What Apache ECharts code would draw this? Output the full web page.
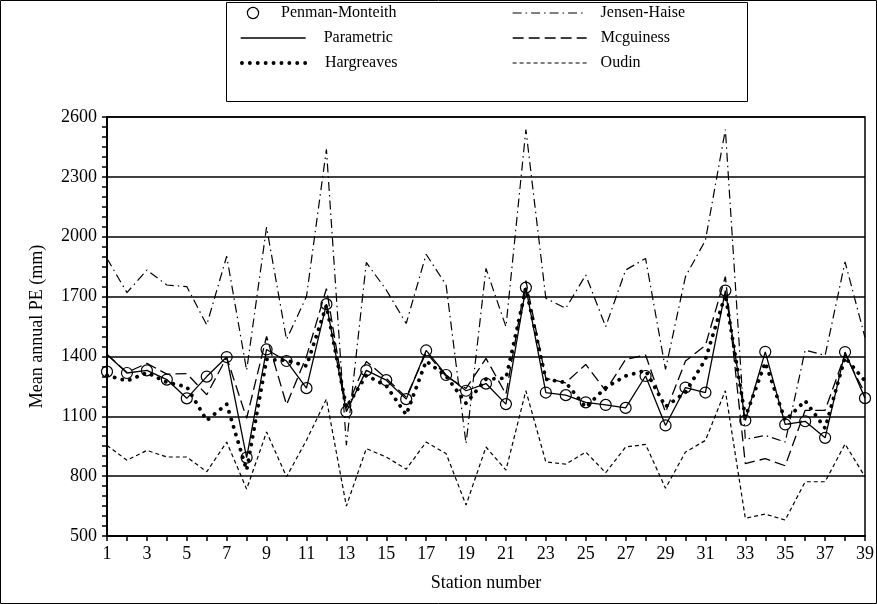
<!DOCTYPE html>
<html><head><meta charset="utf-8">
<script src="https://cdn.jsdelivr.net/npm/echarts/dist/echarts.min.js"></script>
<style>html,body{margin:0;padding:0;background:#fff}#c{width:877px;height:604px}</style>
</head><body><div id="c"></div>
<script>
const stations = ['1','2','3','4','5','6','7','8','9','10','11','12','13','14','15','16','17','18','19','20','21','22','23','24','25','26','27','28','29','30','31','32','33','34','35','36','37','38','39'];
const penmanMonteith = [1324,1317,1330,1284,1190,1299,1397,893,1435,1377,1241,1662,1123,1330,1281,1186,1430,1307,1228,1264,1161,1745,1219,1206,1170,1157,1142,1302,1054,1244,1219,1730,1079,1423,1059,1075,992,1422,1191];
const parametric = [1410,1317,1330,1284,1190,1299,1397,893,1435,1377,1241,1662,1123,1330,1281,1186,1430,1307,1228,1264,1161,1745,1219,1206,1170,1157,1142,1302,1054,1244,1219,1730,1079,1423,1059,1075,992,1422,1191];
const hargreaves = [1305,1277,1319,1270,1248,1079,1161,830,1385,1380,1352,1655,1145,1305,1253,1108,1377,1302,1165,1286,1291,1740,1286,1269,1145,1244,1302,1330,1148,1220,1385,1710,1095,1369,1079,1178,1040,1395,1277];
const jensenHaise = [1891,1720,1833,1758,1750,1558,1902,1330,2048,1485,1700,2438,955,1871,1733,1565,1912,1758,963,1841,1549,2537,1692,1641,1808,1549,1833,1891,1335,1800,1982,2537,985,1004,971,1432,1405,1874,1495];
const mcguiness = [1410,1320,1365,1311,1314,1208,1395,1090,1500,1158,1400,1740,1140,1375,1290,1195,1420,1300,1240,1390,1211,1780,1290,1268,1360,1228,1385,1407,1120,1377,1455,1800,863,888,852,1130,1130,1410,1215];
const oudin = [954,880,929,896,896,822,971,735,1021,797,980,1186,650,938,896,835,971,913,655,946,830,1228,871,860,921,817,946,959,739,921,979,1228,589,610,580,772,772,961,797];

const FONT = 'Liberation Serif';
const chart = echarts.init(document.getElementById('c'), null, {renderer: 'canvas'});

const STY = {
  oudin: {color: '#000', width: 1.2, type: [4, 3]},
  jensen: {color: '#000', width: 1.2, type: [9, 4, 1.5, 4]},
  mcg: {color: '#000', width: 1.3, type: [11, 5]},
  harg: {color: '#000', width: 3.8, type: [0.1, 7.8], cap: 'round'},
  param: {color: '#000', width: 1.3, type: 'solid'}
};

function leg(name, left, centerY, w, pad, lineStyle, itemStyle) {
  return {
    show: true, data: [name], left: left, top: centerY - 8, orient: 'horizontal',
    itemWidth: w, itemHeight: 14, padding: 0, selectedMode: false,
    lineStyle: lineStyle,
    itemStyle: itemStyle,
    textStyle: {fontFamily: FONT, fontSize: 16, color: '#000', padding: [0, 0, 0, pad]}
  };
}
const hiddenSym = {opacity: 0, borderWidth: 0, color: 'rgba(0,0,0,0)'};

const option = {
  animation: false,
  backgroundColor: '#fff',
  grid: {left: 107, right: 12, top: 117, bottom: 68, show: true, borderColor: '#000', borderWidth: 1.5, outerBoundsMode: 'none', containLabel: false},
  graphic: [
    {type: 'rect', shape: {x: 0.5, y: 0.5, width: 876, height: 603}, style: {fill: 'none', stroke: '#000', lineWidth: 1}, silent: true},
    {type: 'rect', shape: {x: 226.5, y: 2.5, width: 521, height: 99}, style: {fill: '#fff', stroke: '#000', lineWidth: 1}, silent: true, z: -1}
  ],
  legend: [
    leg('Penman-Monteith', 240, 13, 26, 10, {opacity: 0, width: 0}, {color: 'rgba(255,255,255,0)', borderColor: '#000', borderWidth: 1.2, opacity: 1}),
    leg('Parametric', 240, 38, 65, 13, STY.param, hiddenSym),
    leg('Hargreaves', 240, 63, 70, 8, STY.harg, hiddenSym),
    leg('Jensen-Haise', 512, 13, 74, 9, STY.jensen, hiddenSym),
    leg('Mcguiness', 512, 38, 74, 9, STY.mcg, hiddenSym),
    leg('Oudin', 512, 63, 74, 9, STY.oudin, hiddenSym)
  ],
  xAxis: {
    type: 'category', data: stations, boundaryGap: false,
    name: 'Station number', nameLocation: 'middle', nameGap: 38,
    nameTextStyle: {fontFamily: FONT, fontSize: 18, color: '#000'},
    axisLine: {show: true, lineStyle: {color: '#000', width: 2}},
    axisTick: {show: true, interval: 0, inside: false, length: 5, lineStyle: {color: '#000', width: 1.5}},
    axisLabel: {interval: 1, margin: 9, fontFamily: FONT, fontSize: 18, color: '#000'},
    splitLine: {show: false}
  },
  yAxis: {
    type: 'value', min: 500, max: 2600, interval: 300,
    name: 'Mean annual PE (mm)', nameLocation: 'middle', nameGap: 61, nameRotate: 90,
    nameTextStyle: {fontFamily: FONT, fontSize: 18, color: '#000'},
    axisLine: {show: true, lineStyle: {color: '#000', width: 2}},
    axisTick: {show: true, inside: false, length: 5, lineStyle: {color: '#000', width: 1.5}},
    minorTick: {show: true, splitNumber: 6, length: 5, lineStyle: {color: '#000', width: 1.5}},
    axisLabel: {margin: 10, fontFamily: FONT, fontSize: 18, color: '#000', formatter: function (v) { return String(v); }},
    splitLine: {show: true, lineStyle: {color: '#000', width: 1.5}},
    minorSplitLine: {show: false}
  },
  series: [
    {name: 'Oudin', type: 'line', data: oudin, symbol: 'none', z: 2, lineStyle: STY.oudin, itemStyle: {color: '#000'}},
    {name: 'Jensen-Haise', type: 'line', data: jensenHaise, symbol: 'none', z: 2, lineStyle: STY.jensen, itemStyle: {color: '#000'}},
    {name: 'Mcguiness', type: 'line', data: mcguiness, symbol: 'none', z: 2, lineStyle: STY.mcg, itemStyle: {color: '#000'}},
    {name: 'Hargreaves', type: 'line', data: hargreaves, symbol: 'none', z: 3, lineStyle: STY.harg, itemStyle: {color: '#000'}},
    {name: 'Parametric', type: 'line', data: parametric, symbol: 'none', z: 4, lineStyle: STY.param, itemStyle: {color: '#000'}},
    {name: 'Penman-Monteith', type: 'line', data: penmanMonteith, symbol: 'circle', symbolSize: 11,
      showSymbol: true, showAllSymbol: true, z: 5,
      lineStyle: {color: '#000', width: 1, opacity: 0},
      itemStyle: {color: 'rgba(255,255,255,0)', borderColor: '#000', borderWidth: 1.2}}
  ]
};
chart.setOption(option);
</script>
</body></html>
